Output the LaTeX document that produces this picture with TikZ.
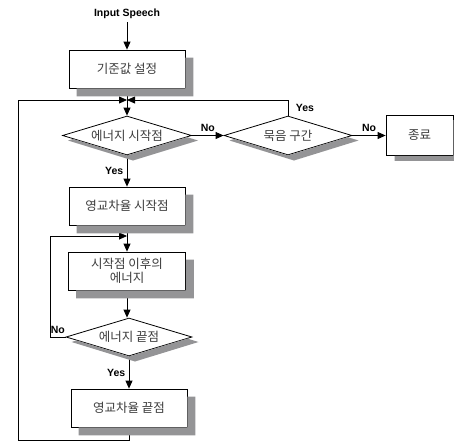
\documentclass[tikz,border=0pt]{standalone}
\usepackage{fontspec}
\setmainfont{Liberation Sans}
\newfontfamily\kr{Noto Sans CJK KR}
\usetikzlibrary{shapes.geometric,arrows.meta}
\definecolor{shadowc}{RGB}{148,148,150}
\definecolor{txtc}{RGB}{60,60,60}
\begin{document}
\begin{tikzpicture}[x=1pt,y=-1pt,
  proc/.style={draw, fill=white, line width=0.8pt,
    font=\kr\fontsize{12.5}{13.5}\selectfont, text=txtc, align=center, inner sep=0pt},
  dec/.style={diamond, aspect=3.3, draw, fill=white, line width=0.8pt,
    font=\kr\fontsize{12.5}{13.5}\selectfont, text=txtc, align=center, inner sep=0pt},
  lbl/.style={font=\bfseries\fontsize{10.5}{12}\selectfont},
  arr/.style={-{Triangle[length=8pt,width=7pt]}, line width=0.8pt}
]
\useasboundingbox (0,0) rectangle (454,442);

\node[lbl] (inp) at (127,14) {Input Speech};
\node[proc, minimum width=116pt, minimum height=38pt] (b1) at (127,69) {기준값 설정};
\coordinate (j) at (127,100);
\node[dec, minimum width=129pt, minimum height=39pt] (d1) at (127,135.5) {에너지 시작점};
\node[dec, minimum width=128pt, minimum height=39pt] (d2) at (288,135.5) {묵음 구간};
\node[proc, minimum width=67pt, minimum height=40pt] (b5) at (419.5,135.5) {종료};
\node[proc, minimum width=116pt, minimum height=38pt] (b2) at (127,206) {영교차율 시작점};
\coordinate (j2) at (127,236);
\node[proc, minimum width=117pt, minimum height=38pt] (b3) at (127,271) {시작점 이후의\\에너지};
\node[dec, minimum width=126pt, minimum height=38pt] (d3) at (129,337) {에너지 끝점};
\node[proc, minimum width=116pt, minimum height=38pt] (b4) at (129,408) {영교차율 끝점};

\coordinate (lb) at (18,440);
\coordinate (lt) at (18,100);
\coordinate (nl) at (50,337);

\draw[arr] (inp) -- (b1);
\draw[arr] (b1) -- (d1);
\draw[arr] (d1) -- node[lbl, above] (n1) {No} (d2);
\draw[arr] (d2) -- node[lbl, above] (n2) {No} (b5);
\draw[arr] (d2.north) |- (j);
\node[lbl] (y1) at (305,108) {Yes};
\draw[arr] (b4.south) |- (lb) -- (lt) -- (j);
\draw[arr] (d1) -- node[lbl, left] (y2) {Yes} (b2);
\draw[arr] (b2) -- (b3);
\draw[arr] (b3) -- (b3 |- d3.north);
\draw[arr] (d3.west) -- node[lbl, above] (n3) {No} (nl) |- (j2);
\draw[arr] (d3) -- node[lbl, left] (y3) {Yes} (b4);

% box shadows: visible L-shaped strip right of and below each box
\foreach \b/\dx/\dy in {b1/8/8, b2/8/8, b3/8/8, b4/8/8, b5/9/5}{
  \fill[shadowc] ([shift={(0,\dy)}]\b.north east) -- ([shift={(\dx,\dy)}]\b.north east)
    -- ([shift={(\dx,\dy)}]\b.south east) -- ([shift={(\dx,\dy)}]\b.south west)
    -- ([shift={(\dx,0)}]\b.south west) -- (\b.south east) -- cycle;
}
% diamond shadows: visible part of the shifted diamond below each diamond
\foreach \d/\w/\h in {d1/65/20, d2/64.5/20, d3/63.5/19.5}{
  \pgfmathsetmacro{\k}{\h/\w}
  \pgfmathsetmacro{\xr}{\w-5/(2*\k)+3}
  \pgfmathsetmacro{\yr}{\h-\xr*\k}
  \pgfmathsetmacro{\xl}{5/(2*\k)-\w+3}
  \pgfmathsetmacro{\yl}{\h+\xl*\k}
  \pgfmathsetmacro{\ex}{\w+6}
  \pgfmathsetmacro{\wx}{6-\w}
  \pgfmathsetmacro{\sy}{\h+5}
  \fill[shadowc] ([shift={(\xr,\yr)}]\d.center) -- ([shift={(\ex,5)}]\d.center)
    -- ([shift={(6,\sy)}]\d.center) -- ([shift={(\wx,5)}]\d.center)
    -- ([shift={(\xl,\yl)}]\d.center) -- (\d.south) -- cycle;
}
\end{tikzpicture}
\end{document}
